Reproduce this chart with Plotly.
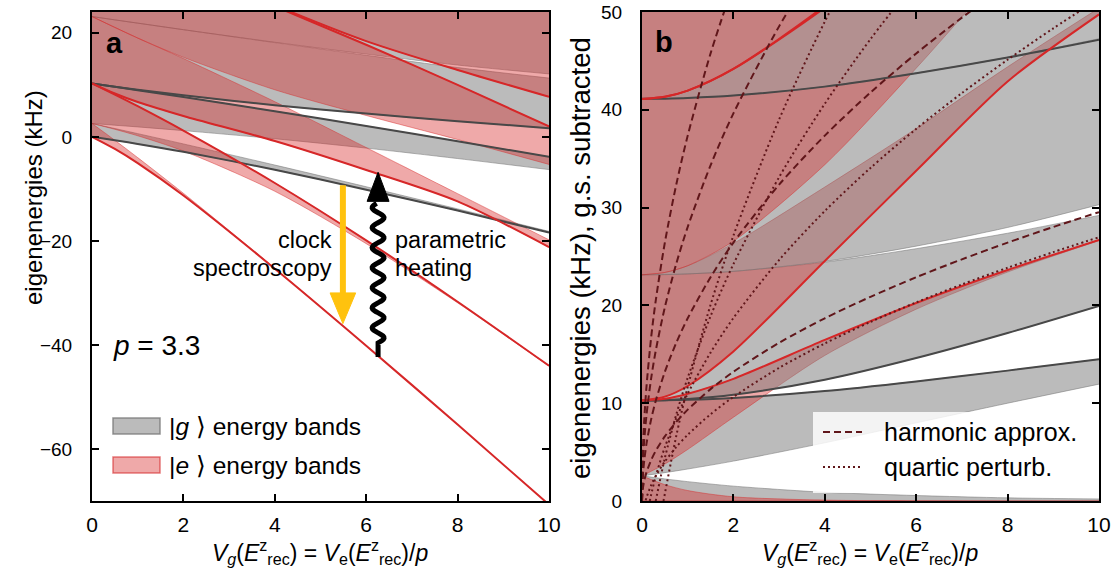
import math
import plotly.graph_objects as go

# ---------------- data (kHz) ----------------
V_band = [0, 0.5, 1, 2, 4, 6, 8, 10]

# panel a : absolute band edges
g0_lo = [0, -0.66, -1.36, -2.88, -6.31, -10.15, -14.17, -18.38]
g0_hi = [2.57, 1.60, 0.62, -1.36, -5.42, -9.59, -13.85, -18.17]
g1_lo = [2.57, 2.24, 1.91, 1.20, -0.36, -2.16, -4.17, -6.30]
g1_hi = [10.28, 9.63, 8.98, 7.66, 4.93, 2.08, -0.84, -3.85]
g2_lo = [10.28, 9.65, 9.06, 7.98, 6.09, 4.47, 3.01, 1.65]
g2_hi = [23.13, 22.49, 21.86, 20.60, 18.11, 15.68, 13.32, 11.30]
g3_lo = [23.13, 22.49, 21.86, 20.60, 18.19, 15.91, 13.80, 12.10]
g3_hi = [41.12, 40.48, 39.84, 38.57, 36.07, 33.60, 31.17, 28.78]

e0_lo = [0, -2.33, -5.06, -11.28, -25.34, -40.14, -55.31, -70.70]
e0_hi = [2.57, -0.66, -3.99, -10.85, -25.25, -40.12, -55.31, -70.70]
e1_lo = [2.57, 1.45, 0.21, -2.72, -10.46, -20.53, -31.90, -44.08]
e1_hi = [10.28, 8.12, 5.90, 1.21, -8.87, -19.89, -31.69, -44.00]
e2_lo = [10.28, 8.34, 6.70, 4.01, -0.80, -6.37, -12.41, -21.20]
e2_hi = [23.13, 21.04, 18.99, 15.06, 6.76, -2.06, -10.92, -19.80]
e3_lo = [23.13, 21.04, 19.00, 15.29, 9.05, 4.11, -0.51, -5.30]
e3_hi = [41.10, 39.00, 36.90, 32.90, 25.10, 17.70, 10.00, 2.00]
e4_lo = [41.10, 39.00, 36.90, 32.90, 25.30, 18.40, 12.85, 7.70]
e4_hi = [64.20, 62.10, 60.10, 56.00, 47.90, 40.10, 32.60, 25.70]

# panel b : ground state subtracted
gs0_lo = [0, 0, 0, 0, 0, 0, 0, 0]
gs0_hi = [2.57, 2.26, 1.98, 1.52, 0.89, 0.56, 0.32, 0.21]
gs1_lo = [2.57, 2.90, 3.27, 4.08, 5.95, 7.99, 10.00, 11.95]
gs1_hi = [10.28, 10.29, 10.34, 10.54, 11.24, 12.23, 13.33, 14.50]
gs2_lo = [10.28, 10.31, 10.42, 10.86, 12.40, 14.62, 17.18, 19.95]
gs2_hi = [23.13, 23.15, 23.22, 23.48, 24.42, 25.80, 27.38, 29.20]
gs3_lo = [23.13, 23.15, 23.22, 23.48, 24.50, 26.06, 27.97, 30.30]
gs3_hi = [41.12, 41.14, 41.20, 41.45, 42.37, 43.74, 45.34, 47.16]
gs4_lo = [41.12, 41.14, 41.20, 41.46, 42.38, 43.77, 45.37, 47.27]
gs4_hi = [64.25, 64.27, 64.33, 64.57, 65.47, 66.82, 68.35, 70.11]

es0_lo = [0, 0, 0, 0, 0, 0, 0, 0]
es0_hi = [2.57, 1.67, 1.07, 0.43, 0.09, 0.02, 0.0, 0.0]
es1_lo = [2.57, 3.78, 5.27, 8.56, 14.88, 19.61, 23.41, 26.62]
es1_hi = [10.28, 10.45, 10.96, 12.49, 16.47, 20.25, 23.62, 26.70]
es2_lo = [10.28, 10.67, 11.76, 15.29, 24.54, 33.77, 42.90, 49.75]
es2_hi = [23.13, 23.37, 24.05, 26.34, 32.10, 38.08, 44.39, 50.40]
es3_lo = [23.13, 23.37, 24.06, 26.57, 34.39, 44.25, 54.80, 65.30]
es3_hi = [41.10, 41.33, 41.96, 44.18, 50.44, 57.84, 65.31, 72.76]
es4_lo = [41.10, 41.33, 41.96, 44.18, 50.64, 58.54, 68.16, 78.41]
es4_hi = [64.20, 64.40, 65.20, 67.30, 73.20, 80.20, 87.90, 96.40]

# harmonic approximation (dashed) and quartic perturbation (dotted), |e>
V_h1 = [0, 0.02, 0.05, 0.1, 0.2, 0.3, 0.5, 0.75, 1, 1.5, 2, 3, 4, 5, 6, 7, 8, 9, 10]
harm1 = [0, 1.32, 2.09, 2.95, 4.18, 5.12, 6.60, 8.09, 9.34, 11.44, 13.21, 16.18, 18.68, 20.88, 22.88, 24.71, 26.42, 28.02, 29.54]
V_h2 = [0, 0.02, 0.05, 0.1, 0.2, 0.3, 0.5, 0.75, 1, 1.5, 2, 3, 4, 5, 6, 7, 8]
harm2 = [0, 2.64, 4.18, 5.91, 8.35, 10.23, 13.21, 16.18, 18.68, 22.88, 26.42, 32.35, 37.36, 41.77, 45.76, 49.42, 52.83]
V_h3 = [0, 0.02, 0.05, 0.1, 0.2, 0.3, 0.5, 0.75, 1, 1.5, 2, 3, 4]
harm3 = [0, 3.96, 6.27, 8.86, 12.53, 15.35, 19.81, 24.27, 28.02, 34.32, 39.63, 48.53, 56.04]
V_h4 = [0, 0.02, 0.05, 0.1, 0.2, 0.3, 0.5, 0.75, 1, 1.5, 2]
harm4 = [0, 5.28, 8.36, 11.81, 16.71, 20.47, 26.42, 32.36, 37.36, 45.76, 52.83]

V_q1 = [0.08, 0.1, 0.2, 0.3, 0.5, 0.75, 1, 1.5, 2, 3, 4, 5, 6, 7, 8, 9, 10]
quart1 = [0.07, 0.38, 1.61, 2.55, 4.03, 5.52, 6.77, 8.87, 10.64, 13.61, 16.11, 18.31, 20.31, 22.14, 23.85, 25.45, 26.97]
V_q2 = [0.17, 0.2, 0.3, 0.5, 0.75, 1, 1.5, 2, 3, 4, 5, 6, 7, 8, 9, 10]
quart2 = [0.0, 0.64, 2.52, 5.50, 8.47, 10.97, 15.17, 18.71, 24.64, 29.65, 34.06, 38.05, 41.71, 45.12, 48.33, 51.36]
V_q3 = [0.3, 0.5, 0.75, 1, 1.5, 2, 3, 4, 5, 6]
quart3 = [0.0, 4.39, 8.85, 12.60, 18.90, 24.21, 33.11, 40.62, 47.23, 53.21]
V_q4 = [0.47, 0.75, 1, 1.5, 2, 3, 4, 5]
quart4 = [0.0, 6.66, 11.66, 20.06, 27.13, 39.01, 49.02, 57.84]

x_ticks = [0, 2, 4, 6, 8, 10]
ya_ticks = [-60, -40, -20, 0, 20]
ya_text = ['\u221260', '\u221240', '\u221220', '0', '20']
yb_ticks = [0, 10, 20, 30, 40, 50]

# ---------------- styling ----------------
W, H = 1118, 574
TOP, BOT = 12, 501
def px(x):
    return x / W
def py(y):
    return (BOT - y) / (BOT - TOP)

GRAY_FILL = 'rgba(120,120,120,0.5)'
GRAY_EDGE = 'rgba(120,120,120,0.55)'
RED_FILL = 'rgba(214,39,40,0.4)'
RED_EDGE = 'rgba(214,39,40,0.45)'
GRAY_LINE = 'rgb(72,72,72)'
RED_LINE = 'rgb(214,39,40)'
DARK = 'rgb(96,22,26)'
SANS = 'Liberation Sans, Arial, sans-serif'
NARROW = 'Liberation Sans Narrow, Arial Narrow, Liberation Sans, sans-serif'

fig = go.Figure()

def band(lo, hi, fill, edge, xa, ya):
    fig.add_trace(go.Scatter(x=V_band, y=lo, mode='lines', xaxis=xa, yaxis=ya,
                             line=dict(color=edge, width=1, shape='spline', smoothing=0.8),
                             showlegend=False, hoverinfo='skip'))
    fig.add_trace(go.Scatter(x=V_band, y=hi, mode='lines', xaxis=xa, yaxis=ya,
                             fill='tonexty', fillcolor=fill,
                             line=dict(color=edge, width=1, shape='spline', smoothing=0.8),
                             showlegend=False, hoverinfo='skip'))

def curve(xs, ys, color, width, xa, ya, dash='solid'):
    fig.add_trace(go.Scatter(x=xs, y=ys, mode='lines', xaxis=xa, yaxis=ya,
                             line=dict(color=color, width=width, dash=dash, shape='spline', smoothing=0.8),
                             showlegend=False, hoverinfo='skip'))

# panel a: bands interleaved g_n, e_n
a_g = [(g0_lo, g0_hi), (g1_lo, g1_hi), (g2_lo, g2_hi), (g3_lo, g3_hi)]
a_e = [(e0_lo, e0_hi), (e1_lo, e1_hi), (e2_lo, e2_hi), (e3_lo, e3_hi), (e4_lo, e4_hi)]
for n in range(5):
    if n < len(a_g):
        band(a_g[n][0], a_g[n][1], GRAY_FILL, GRAY_EDGE, 'x', 'y')
    band(a_e[n][0], a_e[n][1], RED_FILL, RED_EDGE, 'x', 'y')
for s in [g0_lo, g1_hi, g2_lo, g3_hi]:
    curve(V_band, s, GRAY_LINE, 2, 'x', 'y')
for s in [e0_lo, e1_hi, e2_lo, e3_hi, e4_lo]:
    curve(V_band, s, RED_LINE, 2, 'x', 'y')

# panel b
b_g = [(gs0_lo, gs0_hi), (gs1_lo, gs1_hi), (gs2_lo, gs2_hi), (gs3_lo, gs3_hi), (gs4_lo, gs4_hi)]
b_e = [(es0_lo, es0_hi), (es1_lo, es1_hi), (es2_lo, es2_hi), (es3_lo, es3_hi), (es4_lo, es4_hi)]
for n in range(5):
    band(b_g[n][0], b_g[n][1], GRAY_FILL, GRAY_EDGE, 'x2', 'y2')
    band(b_e[n][0], b_e[n][1], RED_FILL, RED_EDGE, 'x2', 'y2')
for s in [gs1_hi, gs2_lo, gs3_hi]:
    curve(V_band, s, GRAY_LINE, 2, 'x2', 'y2')
for s in [es1_hi, es2_lo, es3_hi, es4_lo]:
    curve(V_band, s, RED_LINE, 2, 'x2', 'y2')
for xs, ys in [(V_h1, harm1), (V_h2, harm2), (V_h3, harm3), (V_h4, harm4)]:
    curve(xs, ys, DARK, 2, 'x2', 'y2', dash='7px,4px')
for xs, ys in [(V_q1, quart1), (V_q2, quart2), (V_q3, quart3), (V_q4, quart4)]:
    curve(xs, ys, DARK, 2, 'x2', 'y2', dash='2px,3px')

axis_common = dict(showline=True, linewidth=2, linecolor='black', mirror='ticks',
                   ticks='inside', ticklen=7, tickwidth=1.5, tickcolor='black',
                   showgrid=False, zeroline=False, automargin=False)

fig.update_layout(
    width=W, height=H, margin=dict(l=0, r=0, t=TOP, b=H - BOT),
    paper_bgcolor='white', plot_bgcolor='white', showlegend=False,
    xaxis=dict(domain=[px(92), px(549)], range=[0, 10], tickvals=x_ticks, anchor='y',
               tickfont=dict(family=NARROW, size=21, color='black'), ticklabelstandoff=4, **axis_common),
    yaxis=dict(domain=[0, 1], range=[-70, 24], tickvals=ya_ticks, ticktext=ya_text, anchor='x',
               tickfont=dict(family=SANS, size=19, color='black'), ticklabelstandoff=14, **axis_common),
    xaxis2=dict(domain=[px(642), px(1099)], range=[0, 10], tickvals=x_ticks, anchor='y2',
                tickfont=dict(family=NARROW, size=21, color='black'), ticklabelstandoff=4, **axis_common),
    yaxis2=dict(domain=[0, 1], range=[0, 50], tickvals=yb_ticks, anchor='x2',
                tickfont=dict(family=SANS, size=19, color='black'), ticklabelstandoff=14, **axis_common),
)

# ---------------- annotations ----------------
ann = []
def text(x, y, s, size, xanchor='center', family=SANS, angle=0, color='black'):
    ann.append(dict(x=px(x), y=py(y), xref='paper', yref='paper', text=s, showarrow=False,
                    xanchor=xanchor, yanchor='middle', textangle=angle,
                    font=dict(family=family, size=size, color=color)))

text(114, 43, '<b>a</b>', 29)
text(664, 42, '<b>b</b>', 29)
text(33, 198, 'eigenenergies (kHz)', 24, angle=-90)
text(580, 258, 'eigenenergies (kHz), g.s. subtracted', 27.5, angle=-90)
xtitle = '<i>V<sub>g</sub></i>(<i>E</i><sup>z</sup><sub>rec</sub>) = <i>V</i><sub>e</sub>(<i>E</i><sup>z</sup><sub>rec</sub>)/<i>p</i>'
text(320, 552, xtitle, 23, family=NARROW)
text(870, 552, xtitle, 23, family=NARROW)
text(111, 345, '<i>p</i> = 3.3', 28, xanchor='left')
text(334, 240, 'clock', 23.5, xanchor='right')
text(334, 268, 'spectroscopy', 23.5, xanchor='right')
text(393, 240, 'parametric', 23.5, xanchor='left')
text(393, 268, 'heating', 23.5, xanchor='left')
text(167, 426, '|<i>g</i> \u27e9 energy bands', 24.5, xanchor='left')
text(167, 465, '|<i>e</i> \u27e9 energy bands', 24.5, xanchor='left')
text(882, 432, 'harmonic approx.', 25, xanchor='left')
text(882, 467, 'quartic perturb.', 25, xanchor='left')

shapes = []
# panel a legend swatches
shapes.append(dict(type='rect', xref='paper', yref='paper', x0=px(113), x1=px(160), y0=py(434), y1=py(418),
                   fillcolor=GRAY_FILL, line=dict(color='rgba(120,120,120,0.8)', width=1.5)))
shapes.append(dict(type='rect', xref='paper', yref='paper', x0=px(113), x1=px(160), y0=py(473), y1=py(457),
                   fillcolor=RED_FILL, line=dict(color='rgba(214,39,40,0.6)', width=1.5)))
# panel b legend box and samples
shapes.append(dict(type='rect', xref='paper', yref='paper', x0=px(813), x1=px(1098), y0=py(493), y1=py(412),
                   fillcolor='rgba(255,255,255,0.82)', line=dict(width=0), layer='above'))
shapes.append(dict(type='line', xref='paper', yref='paper', x0=px(823), x1=px(862), y0=py(432), y1=py(432),
                   line=dict(color=DARK, width=2, dash='7px,4px')))
shapes.append(dict(type='line', xref='paper', yref='paper', x0=px(823), x1=px(862), y0=py(467), y1=py(467),
                   line=dict(color=DARK, width=2, dash='2px,3px')))

# clock spectroscopy arrow (yellow), panel a data coords
YEL = 'rgb(255,194,14)'
xa_ = 5.49
shapes.append(dict(type='line', xref='x', yref='y', x0=xa_, x1=xa_, y0=-9.3, y1=-30.5,
                   line=dict(color=YEL, width=6)))
shapes.append(dict(type='path', xref='x', yref='y',
                   path=f'M {xa_-0.28},-30 L {xa_+0.28},-30 L {xa_},-35.9 Z',
                   fillcolor=YEL, line=dict(color=YEL, width=1)))

# parametric heating wavy arrow (black)
xw = 6.26
pts = [(xw, -42.3), (xw, -39.6)]
ystart, yend = -39.6, -12.8
nseg = 120
for i in range(1, nseg + 1):
    yy = ystart + (yend - ystart) * i / nseg
    xx = xw + 0.13 * math.sin(2 * math.pi * (yy - ystart) / 3.85)
    pts.append((xx, yy))
path = 'M ' + ' L '.join(f'{a:.4f},{b:.4f}' for a, b in pts)
shapes.append(dict(type='path', xref='x', yref='y', path=path, line=dict(color='black', width=5)))
shapes.append(dict(type='path', xref='x', yref='y',
                   path=f'M {xw-0.24},-12.4 L {xw+0.24},-12.4 L {xw},-6.8 Z',
                   fillcolor='black', line=dict(color='black', width=1)))

fig.update_layout(annotations=ann, shapes=shapes)
fig.write_html('out.html')
